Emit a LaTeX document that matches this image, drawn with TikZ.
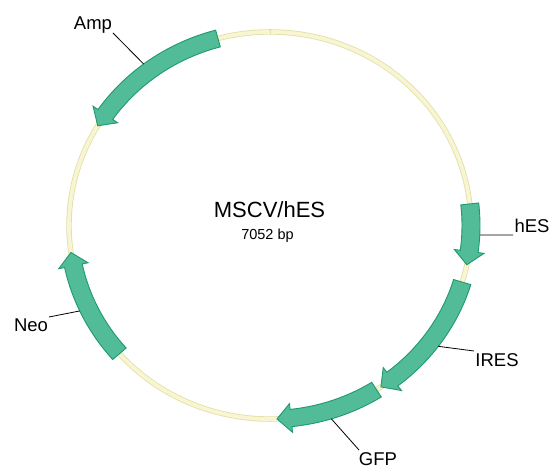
\documentclass[tikz,border=0pt]{standalone}
\usepackage{fontspec}
\setmainfont{Liberation Sans}
\definecolor{featfill}{HTML}{52BB98}
\definecolor{featdraw}{HTML}{1E9A6E}
\definecolor{bbfill}{HTML}{F8F6D2}
\definecolor{bbdraw}{HTML}{E2DEA8}
% feature arrow on the ring: #1 = tail angle, #2 = tip angle
\newcommand\featarrow[2]{%
  \pgfmathsetmacro\fa{#1}%
  \pgfmathsetmacro\fb{#2}%
  \pgfmathsetmacro\fh{#2-4*sign(#2-#1)}%
  \path[feat] (\fa:210) arc[start angle=\fa, end angle=\fh, radius=210]
    -- (\fh:216) -- (\fb:201) -- (\fh:186) -- (\fh:192)
    arc[start angle=\fh, end angle=\fa, radius=192] -- cycle;}
\begin{document}
\begin{tikzpicture}[x=1pt,y=1pt,
  feat/.style={fill=featfill,draw=featdraw,line width=0.9pt,line join=miter},
  leader/.style={draw=black,line width=0.8pt},
  lbl/.style={inner sep=0pt,anchor=base,font=\fontsize{18.5}{20}\selectfont}]
\useasboundingbox (0,0) rectangle (554,468);
\begin{scope}[shift={(270,242.5)},yscale=0.963]
  \draw[bbdraw,line width=0.8pt,double=bbfill,double distance=3.8pt] (0,0) circle[radius=201];
  \draw[bbdraw,line width=0.6pt] (90:198.5) -- (90:203.5);
  \featarrow{105}{149}
  \featarrow{6.4}{-11.7}
  \featarrow{-58}{-88}
  \featarrow{-17}{-56.5}
  \featarrow{-138.5}{-172}
  \coordinate (ampL) at (127:210);
  \coordinate (hesL) at (-2.7:210);
  \coordinate (iresL) at (-36.7:210);
  \coordinate (gfpL) at (-73:210);
  \coordinate (neoL) at (-155:210);
\end{scope}
\node[lbl] (amp) at (93,438) {Amp};
\node[lbl] (hes) at (532,235) {hES};
\node[lbl] (ires) at (497,101) {IRES};
\node[lbl] (gfp) at (378,2.5) {GFP};
\node[lbl] (neo) at (31,136) {Neo};
\coordinate (ampE) at (113,435);
\coordinate (hesE) at (513,233);
\coordinate (iresE) at (474,117);
\coordinate (gfpE) at (359,18);
\coordinate (neoE) at (49,151);
\draw[leader] (ampL) -- (ampE);
\draw[leader] (hesL) -- (hesE);
\draw[leader] (iresL) -- (iresE);
\draw[leader] (gfpL) -- (gfpE);
\draw[leader] (neoL) -- (neoE);
\node[inner sep=0pt,anchor=base,font=\fontsize{22}{24}\selectfont] (title) at (269.5,250) {MSCV/hES};
\node[inner sep=0pt,anchor=base,font=\fontsize{14.5}{16}\selectfont] (size) at (267.5,228) {7052 bp};
\end{tikzpicture}
\end{document}
